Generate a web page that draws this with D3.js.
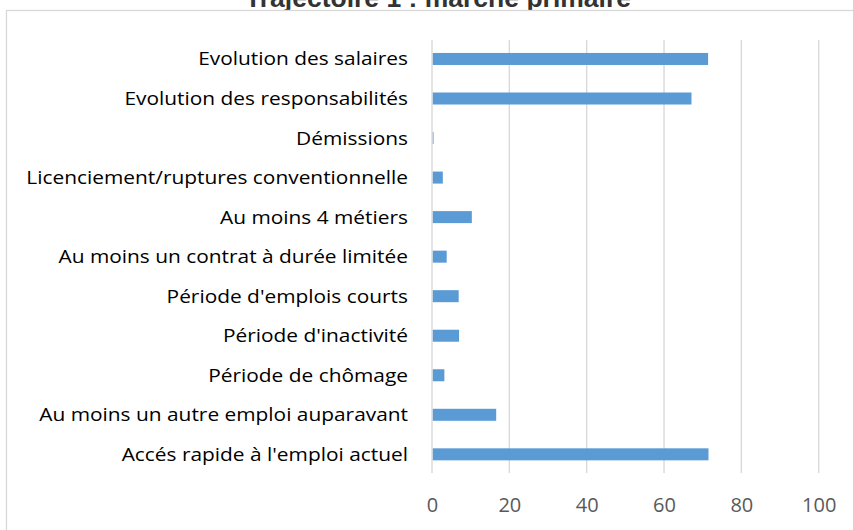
<!DOCTYPE html>
<html>
<head>
<meta charset="utf-8">
<script src="https://cdn.jsdelivr.net/npm/d3@7"></script>
<style>
  html, body { margin: 0; padding: 0; background: #fff; }
  svg { display: block; }
</style>
</head>
<body>
<svg id="chart" width="853" height="530"></svg>
<script>
// Indicators, listed from top to bottom
const categories = [
  "Evolution des salaires",
  "Evolution des responsabilités",
  "Démissions",
  "Licenciement/ruptures conventionnelle",
  "Au moins 4 métiers",
  "Au moins un contrat à durée limitée",
  "Période d'emplois courts",
  "Période d'inactivité",
  "Période de chômage",
  "Au moins un autre emploi auparavant",
  "Accés rapide à l'emploi actuel"
];
// Share (%) per indicator
const values = [71.4, 67.1, 0.4, 2.8, 10.3, 3.8, 6.9, 7.0, 3.2, 16.6, 71.5];
const tickValues = [0, 20, 40, 60, 80, 100];
const title = "Trajectoire 1 : marché primaire";

const svg = d3.select("#chart");
const labelFont = "'Open Sans', sans-serif";

// title (sits above the chart frame)
svg.append("text")
  .attr("x", 438).attr("y", 6.5)
  .attr("text-anchor", "middle")
  .attr("font-family", "'Liberation Sans', Arial, sans-serif")
  .attr("font-weight", "bold")
  .attr("font-size", 26.5)
  .attr("fill", "#333")
  .text(title);

// chart frame
svg.append("rect")
  .attr("x", 6.5).attr("y", 10.5)
  .attr("width", 860).attr("height", 540)
  .attr("fill", "#fff")
  .attr("stroke", "#d9d9d9").attr("stroke-width", 1.3);

const x = d3.scaleLinear().domain([0, 100]).range([432, 818.7]);
const y = d3.scaleBand().domain(categories)
  .range([39.2, 474.1])
  .paddingInner(0.696).paddingOuter(0.348);

// vertical gridlines
svg.append("g").selectAll("line")
  .data(tickValues).join("line")
  .attr("x1", d => x(d)).attr("x2", d => x(d))
  .attr("y1", 40).attr("y2", 473)
  .attr("stroke", "#d9d9d9").attr("stroke-width", 1.4);

// bars
svg.append("g").selectAll("rect")
  .data(values).join("rect")
  .attr("x", x(0) + 0.8)
  .attr("y", (d, i) => y(categories[i]))
  .attr("width", d => Math.max(0, x(d) - x(0) - 0.8))
  .attr("height", y.bandwidth())
  .attr("fill", "#5b9bd5");

// category labels, set in a slightly widened face
const yAxis = d3.axisLeft(y).tickSize(0).tickPadding(0);
const yg = svg.append("g").attr("transform", "translate(408,0)").call(yAxis);
yg.select(".domain").remove();
yg.selectAll("text")
  .attr("font-family", labelFont)
  .attr("font-size", 18)
  .attr("fill", "#000")
  .attr("dy", "0.36em")
  .attr("transform", "scale(1.16,1)");

// value axis labels
const xAxis = d3.axisBottom(x).tickValues(tickValues).tickSize(0).tickPadding(0);
const xg = svg.append("g").attr("transform", "translate(0,496)").call(xAxis);
xg.select(".domain").remove();
xg.selectAll("text")
  .attr("font-family", labelFont)
  .attr("font-size", 20)
  .attr("fill", "#595959")
  .attr("dy", "0.78em");
</script>
</body>
</html>
